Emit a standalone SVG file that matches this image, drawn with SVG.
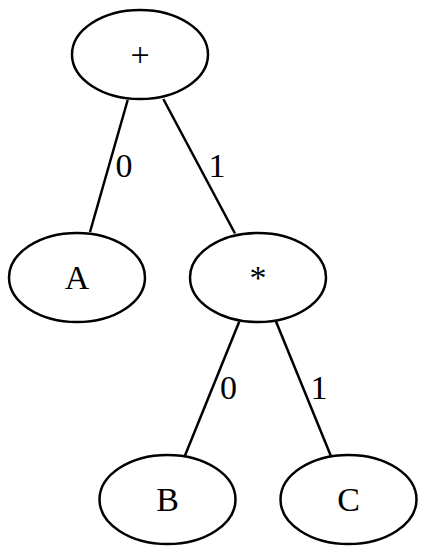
<svg xmlns="http://www.w3.org/2000/svg" width="425" height="555" viewBox="0 0 425 555">
  <style>
    .node ellipse { fill: none; stroke: #000; stroke-width: 2.5; }
    .edge line { stroke: #000; stroke-width: 2.5; fill: none; }
    text { font-family: "Liberation Serif", "Times New Roman", serif; font-size: 34px; fill: #000; text-anchor: middle; }
  </style>
  <rect width="425" height="555" fill="#fff"/>

  <!-- tree edges with their branch indices -->
  <g id="edges" class="edge">
    <line x1="127.7" y1="100" x2="90" y2="232"/>
    <text x="124" y="177">0</text>
    <line x1="163.3" y1="99" x2="235" y2="233.5"/>
    <text x="217" y="177">1</text>
    <line x1="239.3" y1="321.5" x2="185" y2="455.5"/>
    <text x="228.5" y="399">0</text>
    <line x1="276" y1="321.5" x2="330.7" y2="455.5"/>
    <text x="319" y="399">1</text>
  </g>

  <g id="plus" class="node">
    <ellipse cx="140" cy="54.5" rx="68" ry="44.5"/>
    <text x="140" y="66">+</text>
  </g>
  <g id="A" class="node">
    <ellipse cx="77" cy="277.5" rx="68" ry="44.5"/>
    <text x="77" y="289">A</text>
  </g>
  <g id="times" class="node">
    <ellipse cx="258" cy="277.5" rx="68" ry="44.5"/>
    <text x="258" y="289">*</text>
  </g>
  <g id="B" class="node">
    <ellipse cx="167.5" cy="499.5" rx="68" ry="44.5"/>
    <text x="167.5" y="511">B</text>
  </g>
  <g id="C" class="node">
    <ellipse cx="348.5" cy="499.5" rx="68" ry="44.5"/>
    <text x="348.5" y="511">C</text>
  </g>
</svg>
